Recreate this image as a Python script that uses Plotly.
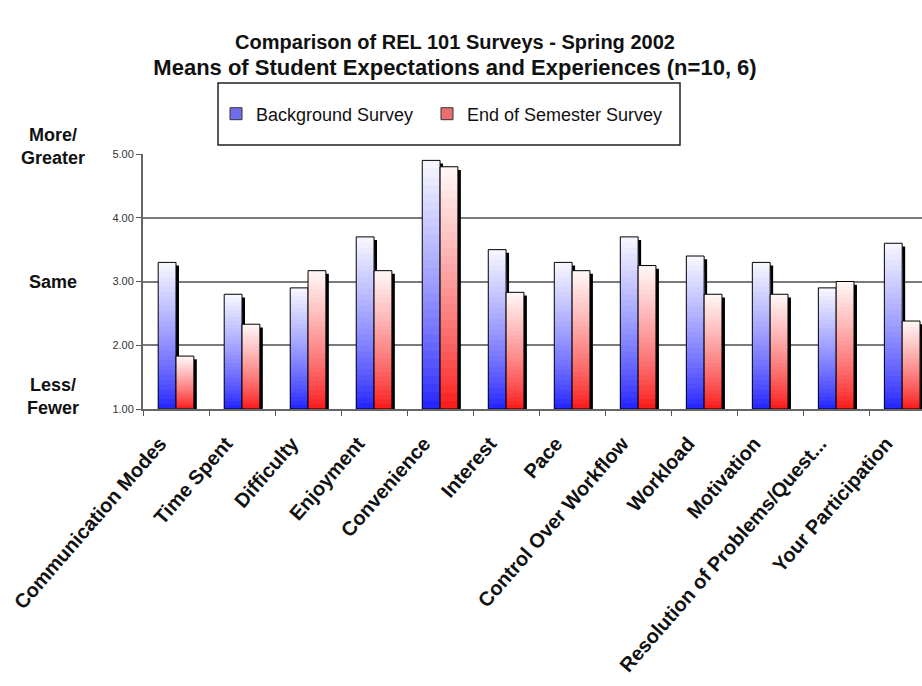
import plotly.graph_objects as go

# Survey items and mean ratings (1 = Less/Fewer, 3 = Same, 5 = More/Greater)
categories = [
    "Communication Modes", "Time Spent", "Difficulty", "Enjoyment",
    "Convenience", "Interest", "Pace", "Control Over Workflow",
    "Workload", "Motivation", "Resolution of Problems/Quest...",
    "Your Participation",
]
background_survey = [3.30, 2.80, 2.90, 3.70, 4.90, 3.50, 3.30, 3.70, 3.40, 3.30, 2.90, 3.60]
end_of_semester = [1.83, 2.33, 3.17, 3.17, 4.80, 2.83, 3.17, 3.25, 2.80, 2.80, 3.00, 2.38]
y_ticks = [1, 2, 3, 4, 5]

BASE = 1.0          # bars rise from the bottom of the rating scale
BAR_W = 0.27        # width of one bar in category units
STEPS = 30          # number of bands used for the vertical colour gradient
FONT = "Liberation Sans, Arial, sans-serif"

series = [
    dict(name="Background Survey", vals=background_survey, offset=-BAR_W,
         bottom=(30, 30, 255), top=(248, 248, 255), legend=(110, 110, 235),
         legend_ref="legend"),
    dict(name="End of Semester Survey", vals=end_of_semester, offset=0.0,
         bottom=(250, 20, 20), top=(255, 248, 248), legend=(235, 110, 110),
         legend_ref="legend2"),
]


def blend(c0, c1, t):
    return "rgb({},{},{})".format(*[round(a + (b - a) * t) for a, b in zip(c0, c1)])


fig = go.Figure()

for s in series:
    heights = [v - BASE for v in s["vals"]]
    base = [BASE] * len(heights)

    # drop shadow to the right of each bar
    fig.add_trace(go.Bar(
        x=categories, y=[h - 0.05 for h in heights], base=base,
        offset=s["offset"] + 0.045, width=BAR_W,
        marker=dict(color="black", line=dict(width=0)),
        showlegend=False, hoverinfo="skip",
    ))

    # gradient: tall pale bands first, shorter saturated bands on top
    for k in range(STEPS, 0, -1):
        t = ((k - 0.5) / STEPS) ** 0.8
        fig.add_trace(go.Bar(
            x=categories, y=[h * k / STEPS for h in heights], base=base,
            offset=s["offset"], width=BAR_W,
            marker=dict(color=blend(s["bottom"], s["top"], t), line=dict(width=0)),
            showlegend=False, hoverinfo="skip",
        ))

    # outline carrying the hover value
    fig.add_trace(go.Bar(
        x=categories, y=heights, base=base,
        offset=s["offset"], width=BAR_W,
        marker=dict(color="rgba(0,0,0,0)", line=dict(color="black", width=1)),
        customdata=s["vals"], name=s["name"], showlegend=False,
        hovertemplate="%{x}<br>%{customdata:.2f}<extra>" + s["name"] + "</extra>",
    ))

# legend swatches: zero-height bars sitting on the baseline
for s in series:
    fig.add_trace(go.Bar(
        x=categories[:1], y=[0], base=[BASE], name=s["name"],
        offset=s["offset"], width=BAR_W, legend=s["legend_ref"],
        marker=dict(color="rgb({},{},{})".format(*s["legend"]),
                    line=dict(color="#333", width=1)),
        hoverinfo="skip",
    ))

side_labels = [("More/<br>Greater", 5.12), ("Same", 3.0), ("Less/<br>Fewer", 1.2)]
annotations = [
    dict(text=txt, x=-0.1155, xref="paper", y=(yv - 1) / 4, yref="paper",
         showarrow=False, xanchor="center", yanchor="middle", align="center",
         font=dict(family=FONT, size=18, color="#111", weight="bold"))
    for txt, yv in side_labels
]

legend_style = dict(
    orientation="h", xref="container", yref="container",
    xanchor="left", y=1 - 114 / 686, yanchor="middle",
    font=dict(family=FONT, size=18, color="#111"),
    bgcolor="rgba(0,0,0,0)", borderwidth=0, itemwidth=30,
)

fig.update_layout(
    width=922, height=686,
    margin=dict(l=143, r=0, t=154, b=277),
    paper_bgcolor="white", plot_bgcolor="white",
    barmode="overlay",
    title=dict(
        text="Comparison of REL 101 Surveys - Spring 2002<br>"
             "<span style='font-size:22px'>Means of Student Expectations "
             "and Experiences (n=10, 6)</span>",
        x=455 / 922, xref="container", xanchor="center",
        y=1 - 49 / 686, yref="container", yanchor="top",
        font=dict(family=FONT, size=20, color="#111", weight="bold"),
    ),
    legend=dict(x=216 / 922, **legend_style),
    legend2=dict(x=427 / 922, **legend_style),
    shapes=[dict(
        type="rect", xref="paper", yref="paper",
        x0=(218 - 143) / 779, x1=(680 - 143) / 779,
        y0=(409 - 145) / 255, y1=(409 - 83) / 255,
        line=dict(color="#222", width=1.5), fillcolor="rgba(0,0,0,0)", layer="above",
    )],
    annotations=annotations,
    xaxis=dict(
        type="category", categoryorder="array", categoryarray=categories,
        range=[-0.5, 11.3], tickson="boundaries", ticks="outside", ticklen=5,
        tickcolor="#555", tickangle=-49, showgrid=False,
        ticklabelshift=-16, ticklabelstandoff=13,
        showline=True, linecolor="#666", linewidth=2,
        tickfont=dict(family=FONT, size=20, color="#111", weight="bold"),
    ),
    yaxis=dict(
        range=[1, 5], tickvals=y_ticks, tickformat=".2f",
        ticks="outside", ticklen=5, tickcolor="#555",
        showgrid=True, gridcolor="#7a7a7a", gridwidth=2,
        showline=True, linecolor="#666", linewidth=2, zeroline=False,
        tickfont=dict(family=FONT, size=11, color="#333"),
    ),
    hovermode="closest",
)

fig.write_html("out.html")
